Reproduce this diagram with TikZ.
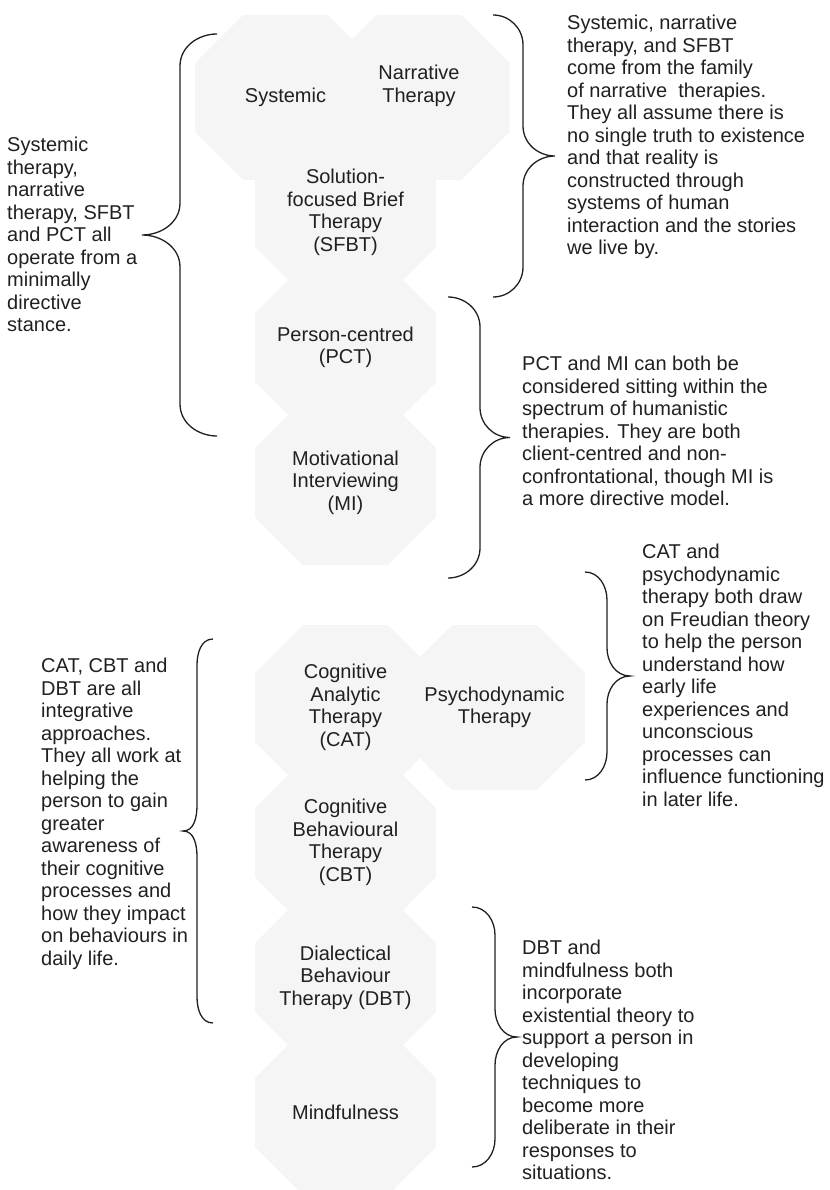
\documentclass[tikz,border=0pt]{standalone}
\usepackage{fontspec}
\setmainfont{Liberation Sans}
\usetikzlibrary{positioning,backgrounds}
\definecolor{octgray}{HTML}{F5F5F5}
\definecolor{ink}{HTML}{231F20}

% octagon behind a therapy node (optional shift downwards)
\newcommand{\octagon}[2][0]{%
  \fill[octgray] ([yshift=-#1pt]#2.center) ++(-42.5pt,82.5pt) -- ++(85pt,0pt) -- ++(48pt,-48pt)
    -- ++(0pt,-69pt) -- ++(-48pt,-48pt) -- ++(-85pt,0pt) -- ++(-48pt,48pt) -- ++(0pt,69pt) -- cycle;}
% braces: end x, line x, tip x, top, bottom, curl
\newcommand{\rightcurl}[6]{%
  \draw[curl] (#1,#4) to[out=0,in=90] (#2,#4+#6) -- (#2,{(#4+#5)/2-#6})
    to[out=-90,in=180] (#3,{(#4+#5)/2}) to[out=180,in=90] (#2,{(#4+#5)/2+#6})
    -- (#2,#5-#6) to[out=-90,in=0] (#1,#5);}
\newcommand{\leftcurl}[6]{%
  \draw[curl] (#1,#4) to[out=180,in=90] (#2,#4+#6) -- (#2,{(#4+#5)/2-#6})
    to[out=-90,in=0] (#3,{(#4+#5)/2}) to[out=0,in=90] (#2,{(#4+#5)/2+#6})
    -- (#2,#5-#6) to[out=-90,in=180] (#1,#5);}

\begin{document}
\begin{tikzpicture}[x=1pt,y=-1pt,node distance=135pt,on grid,
    therapy/.style={minimum width=181pt,minimum height=165pt,align=center,inner sep=0pt,
      text=ink,font=\fontsize{20}{22.5}\selectfont},
    note/.style={anchor=north west,align=left,inner sep=0pt,text=ink,
      font=\fontsize{20}{22.5}\selectfont},
    curl/.style={draw=ink,line width=1.3pt}]
  \useasboundingbox (0,0) rectangle (829,1190);

  \node[therapy] (sfbt) at (345.5,212.5)            {Solution-\\focused Brief\\Therapy\\(SFBT)};
  \node[therapy] (sys)  [above left=115pt and 60pt of sfbt]    {Systemic};
  \node[therapy] (nar)  [above right=126.5pt and 73.5pt of sfbt] {Narrative\\Therapy};
  \node[therapy] (pct)  [below of=sfbt]             {Person-centred\\(PCT)};
  \node[therapy] (mi)   [below of=pct]              {Motivational\\Interviewing\\(MI)};

  \node[therapy] (cat)  at (345.5,707.5)            {Cognitive\\Analytic\\Therapy\\(CAT)};
  \node[therapy] (psy)  [right=149pt of cat]        {Psychodynamic\\Therapy};
  \node[therapy] (cbt)  [below of=cat]              {Cognitive\\Behavioural\\Therapy\\(CBT)};
  \node[therapy] (dbt)  [below of=cbt]              {Dialectical\\Behaviour\\Therapy (DBT)};
  \node[therapy] (mind) [below of=dbt]              {Mindfulness};

  \begin{scope}[on background layer]
    \octagon{sys} \octagon[11.5]{nar} \octagon{sfbt} \octagon{pct} \octagon{mi}
    \octagon{cat} \octagon{psy} \octagon{cbt} \octagon{dbt} \octagon{mind}
  \end{scope}

  \node[note] (dirnote) at (7,137)   {Systemic\\therapy,\\narrative\\therapy, SFBT\\and PCT all\\operate from a\\minimally\\directive\\stance.};
  \node[note] (sysnote) at (567,15)  {Systemic, narrative\\therapy, and SFBT\\come from the family\\of narrative\ \ therapies.\\They all assume there is\\no single truth to existence\\and that reality is\\constructed through\\systems of human\\interaction and the stories\\we live by.};
  \node[note] (humnote) at (522,356) {PCT and MI can both be\\considered sitting within the\\spectrum of humanistic\\therapies. They are both\\client-centred and non-\\confrontational, though MI is\\a more directive model.};
  \node[note] (psynote) at (642,544) {CAT and\\psychodynamic\\therapy both draw\\on Freudian theory\\to help the person\\understand how\\early life\\experiences and\\unconscious\\processes can\\influence functioning\\in later life.};
  \node[note] (intnote) at (41,658)  {CAT, CBT and\\DBT are all\\integrative\\approaches.\\They all work at\\helping the\\person to gain\\greater\\awareness of\\their cognitive\\processes and\\how they impact\\on behaviours in\\daily life.};
  \node[note] (exinote) at (522,940) {DBT and\\mindfulness both\\incorporate\\existential theory to\\support a person in\\developing\\techniques to\\become more\\deliberate in their\\responses to\\situations.};

  \leftcurl{217}{180}{142}{34}{436}{32}
  \rightcurl{493}{523}{555}{15}{297}{30}
  \rightcurl{448}{480}{510}{297}{578}{30}
  \rightcurl{585}{607}{630}{572}{780}{28}
  \leftcurl{213}{197}{183}{639}{1023}{26}
  \rightcurl{472}{495}{517}{907}{1167}{28}
\end{tikzpicture}
\end{document}
